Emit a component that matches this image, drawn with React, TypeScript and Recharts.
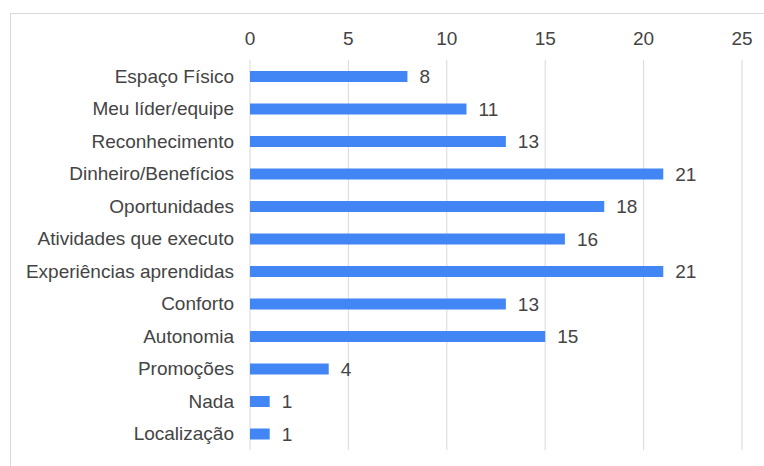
import React from 'react';
import { BarChart, Bar, XAxis, YAxis, CartesianGrid, LabelList } from 'recharts';

const categories = [
  'Espaço Físico',
  'Meu líder/equipe',
  'Reconhecimento',
  'Dinheiro/Benefícios',
  'Oportunidades',
  'Atividades que executo',
  'Experiências aprendidas',
  'Conforto',
  'Autonomia',
  'Promoções',
  'Nada',
  'Localização',
];
const values = [8, 11, 13, 21, 18, 16, 21, 13, 15, 4, 1, 1];
const xTicks = [0, 5, 10, 15, 20, 25];

const data = categories.map((name, i) => ({ name, value: values[i] }));

const FONT = '"Liberation Sans", Arial, sans-serif';
const FS = 19;

export default function App() {
  return (
    <div style={{ position: 'absolute', left: 0, top: 0, width: 764, height: 466, overflow: 'hidden', background: '#fff' }}>
      <div
        style={{
          position: 'absolute',
          left: 10,
          top: 13,
          width: 760,
          height: 460,
          borderTop: '1px solid #d9d9d9',
          borderLeft: '1px solid #d9d9d9',
        }}
      />
      <div style={{ position: 'absolute', left: 0, top: 0 }}>
        <BarChart
          width={764}
          height={466}
          data={data}
          layout="vertical"
          margin={{ top: 0, right: 22, bottom: 16, left: 10 }}
          barCategoryGap={0}
        >
          <CartesianGrid horizontal={false} vertical={true} stroke="#d9d9d9" />
          <XAxis
            type="number"
            orientation="top"
            domain={[0, 25]}
            ticks={xTicks}
            height={60}
            axisLine={false}
            tickLine={false}
            tickMargin={9}
            tick={{ fill: '#444444', fontSize: FS, fontFamily: FONT }}
          />
          <YAxis
            type="category"
            dataKey="name"
            width={240}
            axisLine={false}
            tickLine={false}
            tickMargin={10}
            interval={0}
            tick={{ fill: '#444444', fontSize: FS, fontFamily: FONT }}
          />
          <Bar dataKey="value" fill="#4285f4" barSize={11} isAnimationActive={false}>
            <LabelList
              dataKey="value"
              position="right"
              offset={12}
              fill="#444444"
              style={{ fontSize: FS, fontFamily: FONT }}
            />
          </Bar>
        </BarChart>
      </div>
    </div>
  );
}
